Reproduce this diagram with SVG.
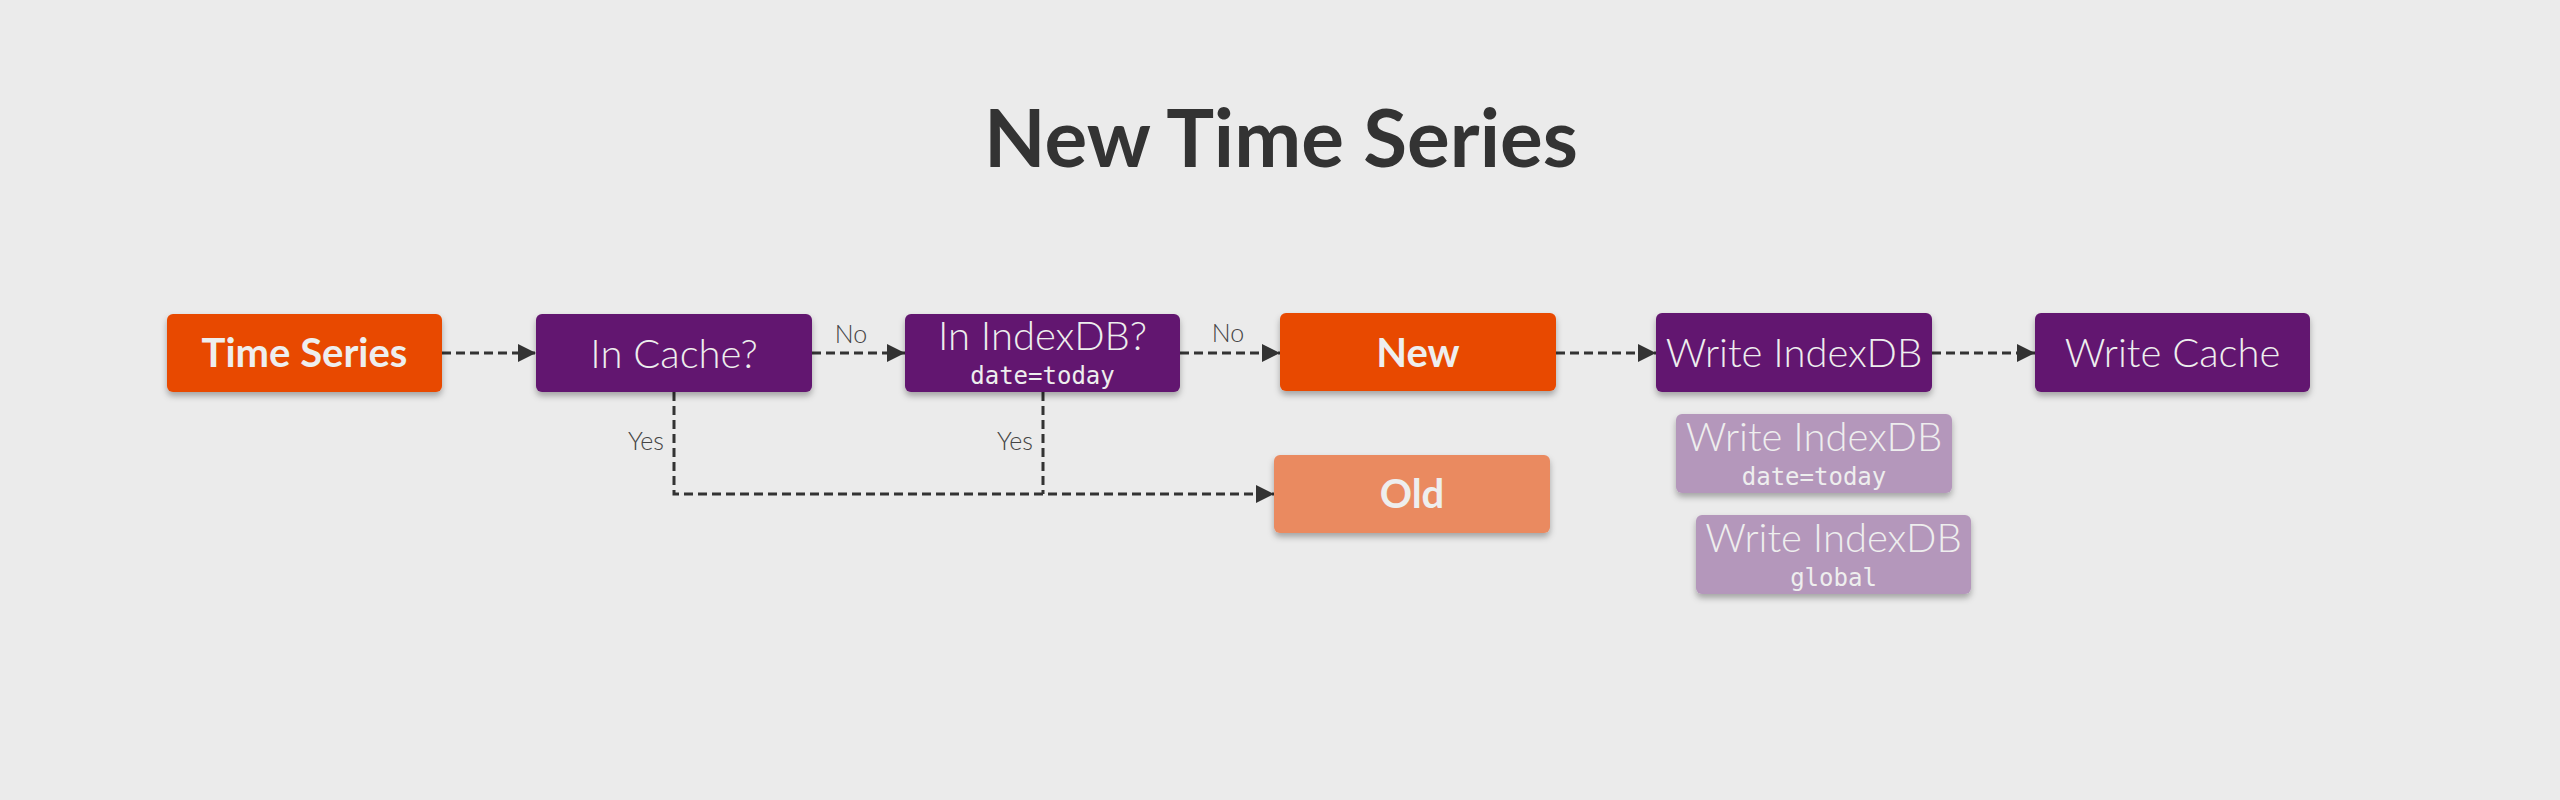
<svg xmlns="http://www.w3.org/2000/svg" width="2560" height="800" viewBox="0 0 2560 800">
  <defs>
    <filter id="shadow" x="-10%" y="-20%" width="120%" height="150%">
      <feDropShadow dx="0" dy="4" stdDeviation="3" flood-color="#000" flood-opacity="0.3"/>
    </filter>
    <marker id="arrow" viewBox="0 0 18 18" refX="18" refY="9" markerWidth="18" markerHeight="18" markerUnits="userSpaceOnUse" orient="auto">
      <path d="M0,0 L18,9 L0,18 Z" fill="#333"/>
    </marker>
  </defs>
  <style>
    .box { filter: url(#shadow); }
    .orange { fill: #e84800; }
    .purple { fill: #62176f; }
    .old { fill: #ea8a60; }
    .light { fill: #b497bb; }
    .bold { font-family: Lato, "Liberation Sans", sans-serif; font-weight: 700; font-size: 40px; fill: #eeeeee; text-anchor: middle; }
    .thin { font-family: Lato, "Liberation Sans", sans-serif; font-weight: 300; font-size: 40px; fill: #eeeeee; text-anchor: middle; }
    .mono { font-family: "DejaVu Sans Mono", "Liberation Mono", monospace; font-size: 24px; fill: #eeeeee; text-anchor: middle; }
    .label { font-family: Lato, "Liberation Sans", sans-serif; font-weight: 300; font-size: 25px; fill: #444; }
    .conn { fill: none; stroke: #333; stroke-width: 3; stroke-dasharray: 9 5; }
    .title { font-family: Lato, "Liberation Sans", sans-serif; font-weight: 700; font-size: 80px; fill: #333; text-anchor: middle; }
  </style>
  <rect width="2560" height="800" fill="#ebebeb"/>
  <text class="title" x="1281" y="167">New Time Series</text>

  <g id="connectors">
    <line class="conn" x1="442" y1="353" x2="536" y2="353" marker-end="url(#arrow)"/>
    <line class="conn" x1="812" y1="353" x2="905" y2="353" marker-end="url(#arrow)"/>
    <line class="conn" x1="1180" y1="353" x2="1280" y2="353" marker-end="url(#arrow)"/>
    <line class="conn" x1="1556" y1="353" x2="1656" y2="353" marker-end="url(#arrow)"/>
    <line class="conn" x1="1932" y1="353" x2="2035" y2="353" marker-end="url(#arrow)"/>
    <path class="conn" d="M674,392 V494 H1274" marker-end="url(#arrow)"/>
    <path class="conn" d="M1043,392 V494"/>
    <text class="label" x="851" y="343" text-anchor="middle">No</text>
    <text class="label" x="1228" y="342" text-anchor="middle">No</text>
    <text class="label" x="664" y="450" text-anchor="end">Yes</text>
    <text class="label" x="1033" y="450" text-anchor="end">Yes</text>
  </g>

  <g id="time-series">
    <rect class="box orange" x="167" y="314" width="275" height="78" rx="6"/>
    <text class="bold" x="304.5" y="367">Time Series</text>
  </g>
  <g id="in-cache">
    <rect class="box purple" x="536" y="314" width="276" height="78" rx="6"/>
    <text class="thin" x="674" y="368">In Cache?</text>
  </g>
  <g id="in-indexdb">
    <rect class="box purple" x="905" y="314" width="275" height="78" rx="6"/>
    <text class="thin" x="1042.5" y="350">In IndexDB?</text>
    <text class="mono" x="1042.5" y="384">date=today</text>
  </g>
  <g id="new">
    <rect class="box orange" x="1280" y="313" width="276" height="78" rx="6"/>
    <text class="bold" x="1418" y="367">New</text>
  </g>
  <g id="write-indexdb">
    <rect class="box purple" x="1656" y="313" width="276" height="79" rx="6"/>
    <text class="thin" x="1794" y="367">Write IndexDB</text>
  </g>
  <g id="write-cache">
    <rect class="box purple" x="2035" y="313" width="275" height="79" rx="6"/>
    <text class="thin" x="2172.5" y="367">Write Cache</text>
  </g>
  <g id="old">
    <rect class="box old" x="1274" y="455" width="276" height="78" rx="6"/>
    <text class="bold" x="1412" y="508">Old</text>
  </g>
  <g id="write-indexdb-today">
    <rect class="box light" x="1676" y="414" width="276" height="79" rx="6"/>
    <text class="thin" x="1814" y="451">Write IndexDB</text>
    <text class="mono" x="1814" y="485">date=today</text>
  </g>
  <g id="write-indexdb-global">
    <rect class="box light" x="1696" y="515" width="275" height="79" rx="6"/>
    <text class="thin" x="1833.5" y="552">Write IndexDB</text>
    <text class="mono" x="1833.5" y="586">global</text>
  </g>
</svg>
